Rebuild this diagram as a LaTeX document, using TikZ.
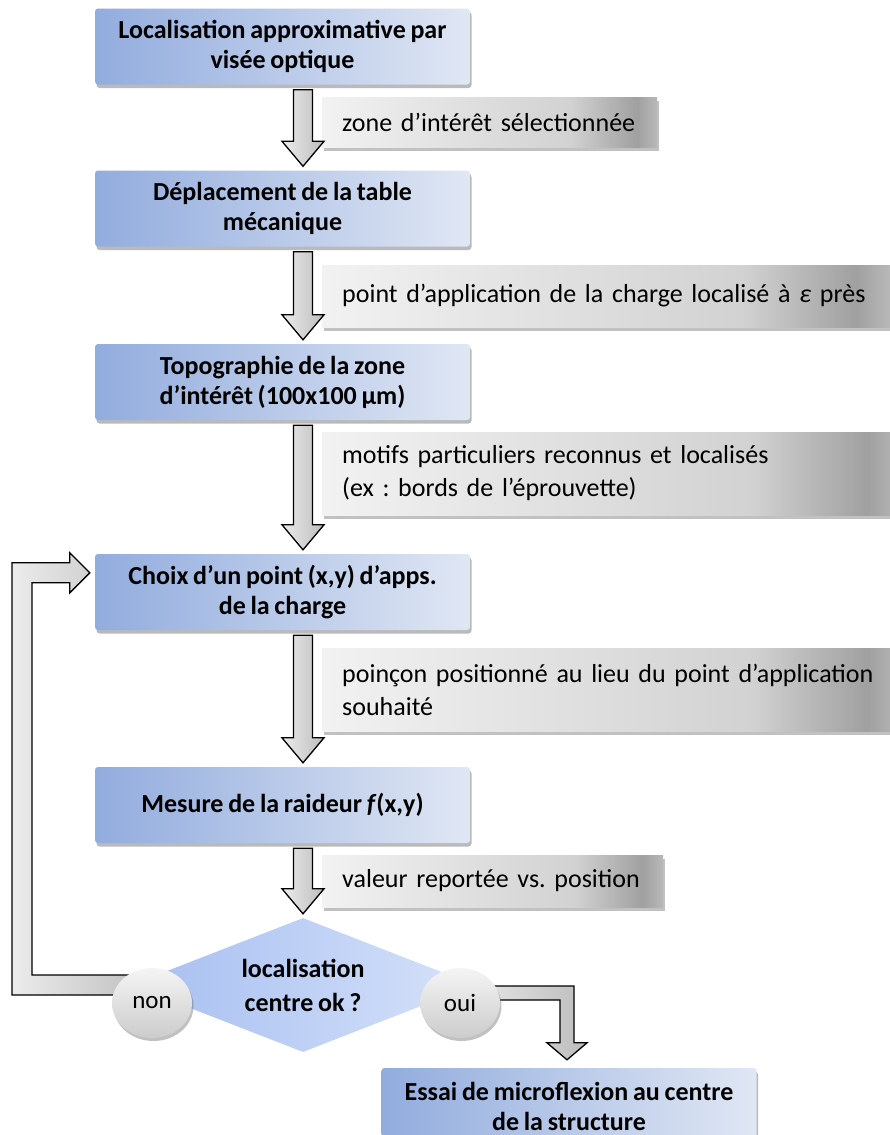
\documentclass[tikz,border=0pt]{standalone}
\usepackage{fontspec}
\setmainfont{Carlito}[WordSpace=0.8]
\usetikzlibrary{shapes.geometric,shadows,calc}
\definecolor{boxL}{RGB}{146,172,222}
\definecolor{boxR}{RGB}{224,231,244}
\definecolor{diaL}{RGB}{166,190,240}
\definecolor{diaR}{RGB}{214,226,250}
\definecolor{lblA}{RGB}{242,242,242}
\definecolor{lblB}{RGB}{210,210,210}
\definecolor{lblC}{RGB}{160,160,160}
\definecolor{lblD}{RGB}{185,185,185}
\pgfdeclarehorizontalshading{lblshade}{100bp}{color(0bp)=(lblA); color(25bp)=(lblA); color(62bp)=(lblB); color(72bp)=(lblC); color(75bp)=(lblD); color(100bp)=(lblD)}
\pgfdeclarelayer{bg}
\pgfdeclarelayer{mid}
\pgfsetlayers{bg,mid,main}
\tikzset{
  boxnode/.style={rectangle, rounded corners=3pt, minimum width=375pt, minimum height=76pt,
    align=center, inner sep=0pt, font=\bfseries\fontsize{26}{30}\selectfont,
    left color=boxL, right color=boxR,
    drop shadow={shadow xshift=1.5pt, shadow yshift=-3.5pt, opacity=0.45, fill=black!60}},
  lblnode/.style={rectangle, anchor=west, shade, shading=lblshade, align=left,
    inner xsep=20pt, inner ysep=0pt, font=\fontsize{26}{33}\selectfont,
    drop shadow={shadow xshift=1.5pt, shadow yshift=-3.5pt, opacity=0.4, fill=black!60}},
  dianode/.style={diamond, aspect=2.6, minimum width=344pt, minimum height=134pt, inner sep=0pt,
    align=center, font=\bfseries\fontsize{26}{34}\selectfont, left color=diaL, right color=diaR},
  ellnode/.style={ellipse, minimum width=80pt, minimum height=70pt, inner sep=0pt,
    font=\fontsize{25}{26}\selectfont, top color=gray!8, bottom color=gray!40,
    drop shadow={shadow xshift=1.5pt, shadow yshift=-3pt, opacity=0.4, fill=black!60}},
  blk/.style={draw=black, line width=1.3pt, line join=miter, left color=gray!15, right color=gray!52}
}
\newcommand{\blkdown}[2]{%
  \shadedraw[blk] let \p1=($(#1.south)+(20.5pt,-5pt)$), \p2=($(#2.north)+(0pt,4pt)$) in
  ({\x1-9.5pt},\y1) -- ({\x1-9.5pt},{\y2+25pt}) -- ({\x1-21pt},{\y2+25pt}) -- (\x1,\y2)
  -- ({\x1+21pt},{\y2+25pt}) -- ({\x1+9.5pt},{\y2+25pt}) -- ({\x1+9.5pt},\y1) -- cycle;}
\begin{document}
\frenchspacing
\begin{tikzpicture}[x=1pt,y=1pt]
\begin{pgfonlayer}{bg}
\fill[white] (0,0) rectangle (890,-1135);
\end{pgfonlayer}
\useasboundingbox (0,0) rectangle (890,-1135);
% boxes
\node[boxnode] (b1) at (282.5,-46.5) {Localisation approximative par\\visée optique};
\node[boxnode] (b2) at (282.5,-208.5) {Déplacement de la table\\mécanique};
\node[boxnode] (b3) at (282.5,-382) {Topographie de la zone\\d’intérêt (100x100 µm)};
\node[boxnode] (b4) at (282.5,-592) {Choix d’un point (x,y) d’apps.\\de la charge};
\node[boxnode] (b5) at (282.5,-805) {Mesure de la raideur \textit{f}(x,y)};
\node[boxnode] (b6) at (569,-1106) {Essai de microflexion au centre\\de la structure};
% labels
\node[lblnode, minimum width=335pt, minimum height=50pt, text width=295pt] (l1) at (322,-122) {zone d’intérêt sélectionnée};
\node[lblnode, minimum width=568pt, minimum height=62pt, text width=528pt] (l2) at (322,-296) {point d’application de la charge localisé à \textit{ε} près};
\node[lblnode, minimum width=568pt, minimum height=83pt, text width=540pt] (l3) at (322,-473.5) {motifs particuliers reconnus et localisés\\(ex : bords de l’éprouvette)};
\node[lblnode, minimum width=568pt, minimum height=83pt, text width=540pt] (l4) at (322,-690) {poinçon positionné au lieu du point d’application\\souhaité};
\node[lblnode, minimum width=341pt, minimum height=52pt, text width=301pt] (l5) at (322,-881) {valeur reportée vs. position};
% decision and answers
\begin{pgfonlayer}{bg}
\node[dianode] (d) at (303,-985) {localisation\\centre ok ?};
\end{pgfonlayer}
\node[ellnode] (non) at (152,-1003) {non};
\node[ellnode] (oui) at (460,-1003) {oui};
% vertical arrows
\blkdown{b1}{b2}
\blkdown{b2}{b3}
\blkdown{b3}{b4}
\blkdown{b4}{b5}
\blkdown{b5}{d}
\begin{pgfonlayer}{mid}
% loop arrow (non -> b4)
\shadedraw[blk] let \p1=($(non.center)+(0pt,18pt)$), \p2=($(b4.north west)+(-5pt,-19pt)$) in
  (\x1,{\y1-10pt}) -- (12,{\y1-10pt}) -- (12,{\y2+10pt}) -- ({\x2-20pt},{\y2+10pt})
  -- ({\x2-20pt},{\y2+20pt}) -- (\x2,\y2) -- ({\x2-20pt},{\y2-20pt}) -- ({\x2-20pt},{\y2-10pt})
  -- (32,{\y2-10pt}) -- (32,{\y1+10pt}) -- (\x1,{\y1+10pt}) -- cycle;
% oui arrow (oui -> b6)
\shadedraw[blk] let \p1=($(oui.center)+(0pt,10pt)$), \p2=($(b6.north)+(-2pt,8pt)$) in
  (\x1,{\y1+7pt}) -- ({\x2+7pt},{\y1+7pt}) -- ({\x2+7pt},{\y2+17pt}) -- ({\x2+20pt},{\y2+17pt})
  -- (\x2,\y2) -- ({\x2-20pt},{\y2+17pt}) -- ({\x2-7pt},{\y2+17pt}) -- ({\x2-7pt},{\y1-7pt})
  -- (\x1,{\y1-7pt}) -- cycle;
\end{pgfonlayer}
\end{tikzpicture}
\end{document}
